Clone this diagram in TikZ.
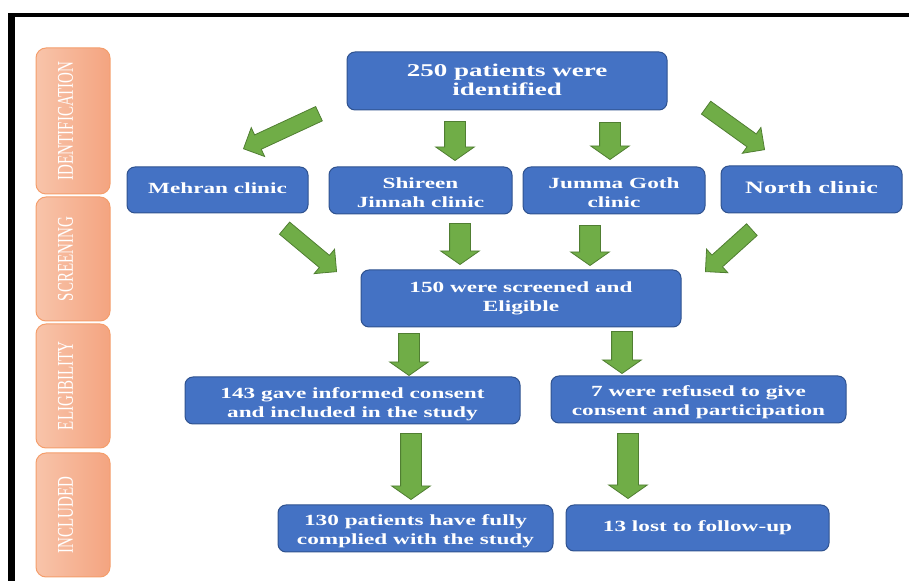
\documentclass[tikz,border=0pt]{standalone}
\usepackage{fontspec}
\setmainfont{Liberation Serif}
\usepackage{graphicx}
\usetikzlibrary{shapes.arrows}
\definecolor{boxblue}{RGB}{68, 114, 196}
\definecolor{boxedge}{RGB}{47, 82, 143}
\definecolor{arrowgreen}{RGB}{112, 173, 71}
\definecolor{arrowedge}{RGB}{80, 126, 50}
\definecolor{stageleft}{RGB}{248, 196, 170}
\definecolor{stageright}{RGB}{244, 164, 128}
\definecolor{stageedge}{RGB}{244, 158, 108}

% the whole figure is stretched sideways, so the text is too
\newcommand{\boxtext}[2][0pt]{\raisebox{#1}[\height][\depth]{\scalebox{1.5}[1]{\begin{tabular}{@{}c@{}}#2\end{tabular}}}}
\newcommand{\stagetext}[1]{\scalebox{1.5}[1]{\rotatebox{90}{#1}}}

\begin{document}
\begin{tikzpicture}[x=0.5pt, y=-0.5pt,
  bluebox/.style={draw=boxedge, fill=boxblue, line width=0.5pt, rounded corners=4pt,
    text=white, font=\fontsize{7.75}{9.2}\selectfont\bfseries, inner sep=0pt},
  stagebox/.style={draw=stageedge, left color=stageleft, right color=stageright,
    line width=0.5pt, rounded corners=5pt, minimum width=37pt, minimum height=62pt},
  stagelabel/.style={text=white, font=\fontsize{7.5}{9}\selectfont, inner sep=0pt},
  greenarrow/.style={single arrow, draw=arrowedge, fill=arrowgreen, line width=0.4pt,
    inner xsep=0pt, anchor=tip, minimum width=0pt},
  downarrow/.style={greenarrow, rotate=-90, inner ysep=5pt,
    single arrow head extend=4.5pt, single arrow tip angle=110},
  slantarrow/.style={greenarrow, inner ysep=3.75pt,
    single arrow head extend=4pt, single arrow tip angle=90}]

  \useasboundingbox (0, 0) rectangle (909, 581);

  % frame
  \fill[black] (8, 13) rectangle (909, 17);
  \fill[black] (8, 13) rectangle (15, 581);

  % stages
  \node[stagebox, minimum height=73pt] (ident) at (73, 121) {};
  \node[stagelabel] at ([xshift=-3.75pt]ident.center) {\stagetext{IDENTIFICATION}};
  \node[stagebox] (screen) at (73, 259) {};
  \node[stagelabel] at ([xshift=-3.75pt]screen.center) {\stagetext{SCREENING}};
  \node[stagebox] (elig) at (73, 386) {};
  \node[stagelabel] at ([xshift=-3.75pt]elig.center) {\stagetext{ELIGIBILITY}};
  \node[stagebox] (incl) at (73, 515) {};
  \node[stagelabel] at ([xshift=-3.75pt]incl.center) {\stagetext{INCLUDED}};

  % boxes
  \node[bluebox, minimum width=160pt, minimum height=29pt,
    font=\fontsize{9}{9.6}\selectfont\bfseries] (identified) at (507, 81)
    {\boxtext[-0.75pt]{250 patients were\\identified}};

  \node[bluebox, minimum width=90.5pt, minimum height=23pt] (mehran) at (217.5, 190)
    {\boxtext{Mehran clinic}};
  \node[bluebox, minimum width=91.5pt, minimum height=23.5pt] (shireen) at (420.5, 190.5)
    {\boxtext[-2pt]{Shireen\\Jinnah clinic}};
  \node[bluebox, minimum width=91pt, minimum height=23.5pt] (jumma) at (614, 190.5)
    {\boxtext[-2pt]{Jumma Goth\\clinic}};
  \node[bluebox, minimum width=90.5pt, minimum height=23.5pt,
    font=\fontsize{8.7}{10}\selectfont\bfseries] (north) at (811.5, 189.5)
    {\boxtext{North clinic}};

  \node[bluebox, minimum width=160pt, minimum height=28.5pt] (screened) at (521, 298.5)
    {\boxtext{150 were screened and\\Eligible}};

  \node[bluebox, minimum width=167.5pt, minimum height=23.5pt] (consent) at (352.5, 400.5)
    {\boxtext[-2pt]{143 gave informed consent\\and included in the study}};
  \node[bluebox, minimum width=147.5pt, minimum height=23.5pt] (refused) at (698.5, 399.5)
    {\boxtext[-1.5pt]{7 were refused to give\\consent and participation}};

  \node[bluebox, minimum width=137.5pt, minimum height=23.5pt] (complied) at (415.5, 528.5)
    {\boxtext[-1.5pt]{130 patients have fully\\complied with the study}};
  \node[bluebox, minimum width=131.5pt, minimum height=23pt] (lost) at (697.5, 528)
    {\boxtext{13 lost to follow-up}};

  % arrows, placed at their tips
  \node[slantarrow, rotate=204.9, minimum height=41.6pt] (a1) at (243, 149) {};
  \node[downarrow, minimum height=19.5pt] (a2) at (455, 161) {};
  \node[downarrow, minimum height=18.5pt] (a3) at (610, 160) {};
  \node[slantarrow, rotate=-35.7, minimum height=36pt] (a4) at (765, 150) {};

  \node[slantarrow, rotate=-39.9, minimum height=33.9pt] (a5) at (337, 272) {};
  \node[downarrow, minimum height=20.5pt] (a6) at (460, 265) {};
  \node[downarrow, minimum height=20pt] (a7) at (590, 266) {};
  \node[slantarrow, rotate=222.1, minimum height=31.3pt] (a8) at (705, 272) {};

  \node[downarrow, minimum height=21pt] (a9) at (409, 376) {};
  \node[downarrow, minimum height=21pt] (a10) at (622, 374) {};

  \node[downarrow, minimum height=33pt] (a11) at (411, 500) {};
  \node[downarrow, minimum height=32.5pt] (a12) at (628, 499) {};

\end{tikzpicture}
\end{document}
